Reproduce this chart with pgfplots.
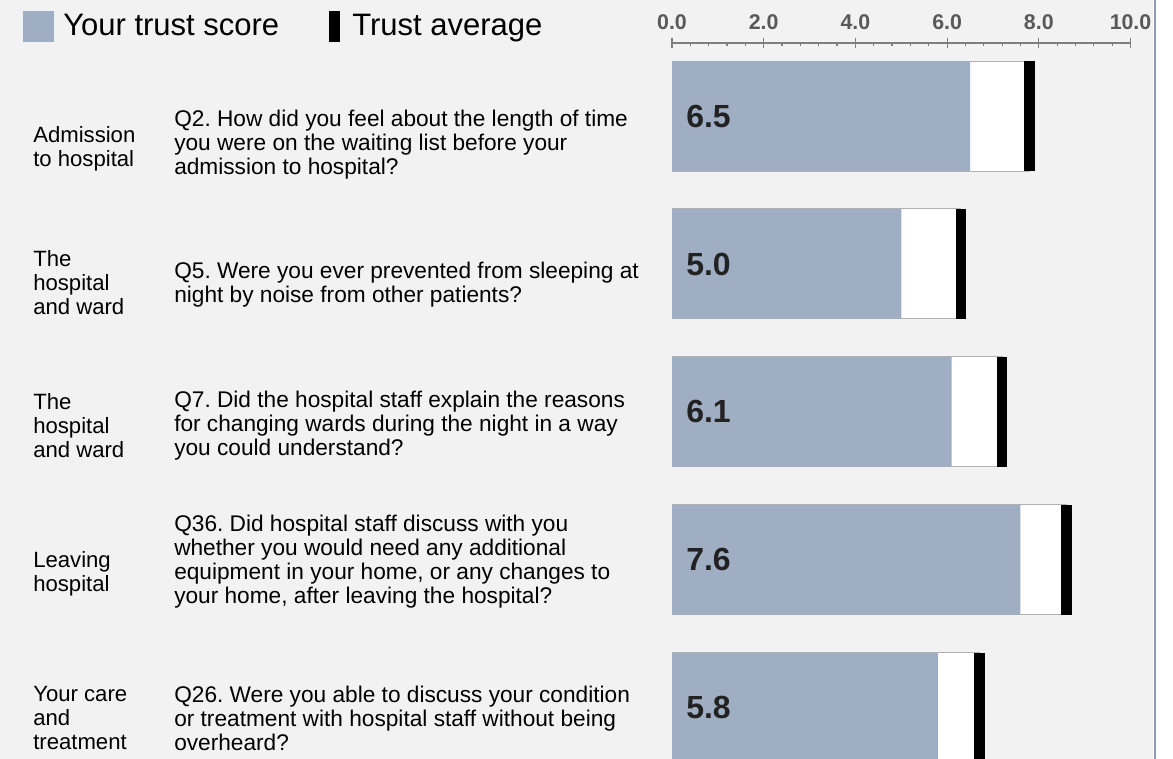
\documentclass[border=0pt]{standalone}
\usepackage{fontspec}
\setmainfont{Liberation Sans}
\usepackage{pgfplots}
\pgfplotsset{compat=1.18}
\frenchspacing
\definecolor{bg}{HTML}{F2F2F2}
\definecolor{score}{HTML}{9FAEC3}
\definecolor{edge}{HTML}{8C9DB6}
\definecolor{tickgray}{HTML}{7F7F7F}
\definecolor{labgray}{HTML}{595959}
\definecolor{numcol}{HTML}{222222}
\newcommand\body{\fontsize{16.6pt}{18pt}\selectfont}
\newcommand\qbody{\fontsize{17pt}{18pt}\selectfont}
\begin{document}
\begin{tikzpicture}[x=0.75pt,y=-0.75pt]
\fill[bg] (0,0) rectangle (1153,759);
\fill[white] (1153,0) rectangle (1173,759);
\draw[edge, line width=1.5pt] (1154.5,0) -- (1154.5,759);

% legend
\fill[score] (23,11) rectangle (54,42);
\node[anchor=base west, inner sep=0pt, font=\fontsize{23.25pt}{28pt}\selectfont] at (63,36) {Your trust score};
\fill[black] (329,11) rectangle (340,42);
\node[anchor=base west, inner sep=0pt, font=\fontsize{23.25pt}{28pt}\selectfont] at (352,36) {Trust average};

% scale axis
\begin{axis}[at={(504pt,-32.25pt)}, anchor=north west, scale only axis,
  width=343.875pt, height=1pt, xmin=0, xmax=10, ymin=0, ymax=1,
  axis x line=top, axis y line=none,
  xtick={0,2,4,6,8,10}, minor x tick num=4,
  xticklabels={0.0,2.0,4.0,6.0,8.0,10.0},
  xticklabel style={anchor=base, yshift=6.5pt, inner sep=0pt, font=\bfseries\fontsize{16pt}{18pt}\selectfont, text=labgray},
  tick align=center, major tick length=7.5pt, minor tick length=2.6pt,
  tick style={tickgray, line width=0.9pt}, minor tick style={yshift=-1.3pt},
  axis line style={tickgray, line width=0.9pt, -}]
\addplot[draw=none] coordinates {(0,0)};
\end{axis}

% bar axis
\begin{axis}[at={(504pt,-31.5pt)}, anchor=north west, scale only axis,
  width=343.875pt, height=537.75pt, xmin=0, xmax=10, ymin=-0.5, ymax=4.345,
  y dir=reverse, hide axis]
\addplot[xbar, bar width=82.5pt, bar shift=0pt, fill=white, draw=black!30, line width=0.75pt]
  coordinates {(7.8,0) (6.3,1) (7.2,2) (8.6,3) (6.7,4)};
\addplot[xbar, bar width=82.5pt, bar shift=0pt, fill=score, draw=none]
  coordinates {(6.5,0) (5.0,1) (6.1,2) (7.6,3) (5.8,4)};
\addplot[only marks, mark=|, mark size=41.25pt, mark options={line width=8pt, black}]
  coordinates {(7.8,0) (6.3,1) (7.2,2) (8.6,3) (6.7,4)};
\addplot[draw=none, mark=none, nodes near coords, point meta=explicit symbolic,
  nodes near coords style={anchor=west, inner sep=0pt, text=numcol, font=\bfseries\fontsize{24pt}{28pt}\selectfont}]
  coordinates {(0.305,0) [6.5] (0.305,1) [5.0] (0.305,2) [6.1] (0.305,3) [7.6] (0.305,4) [5.8]};
\end{axis}

% row texts
\node[anchor=west, align=left, inner sep=0pt, font=\body] at (33,149) {Admission\\to hospital};
\node[anchor=west, align=left, inner sep=0pt, font=\qbody] at (174,145) {Q2. How did you feel about the length of time\\you were on the waiting list before your\\admission to hospital?};
\node[anchor=west, align=left, inner sep=0pt, font=\body] at (33,283) {The\\hospital\\and ward};
\node[anchor=west, align=left, inner sep=0pt, font=\qbody] at (174,285) {Q5. Were you ever prevented from sleeping at\\night by noise from other patients?};
\node[anchor=west, align=left, inner sep=0pt, font=\body] at (33,426) {The\\hospital\\and ward};
\node[anchor=west, align=left, inner sep=0pt, font=\qbody] at (174,426) {Q7. Did the hospital staff explain the reasons\\for changing wards during the night in a way\\you could understand?};
\node[anchor=west, align=left, inner sep=0pt, font=\body] at (33,574) {Leaving\\hospital};
\node[anchor=west, align=left, inner sep=0pt, font=\qbody] at (174,562) {Q36. Did hospital staff discuss with you\\whether you would need any additional\\equipment in your home, or any changes to\\your home, after leaving the hospital?};
\node[anchor=west, align=left, inner sep=0pt, font=\body] at (33,718) {Your care\\and\\treatment};
\node[anchor=west, align=left, inner sep=0pt, font=\qbody] at (174,718) {Q26. Were you able to discuss your condition\\or treatment with hospital staff without being\\overheard?};

\pgfresetboundingbox
\path[use as bounding box] (0,0) rectangle (1173,759);
\end{tikzpicture}
\end{document}
